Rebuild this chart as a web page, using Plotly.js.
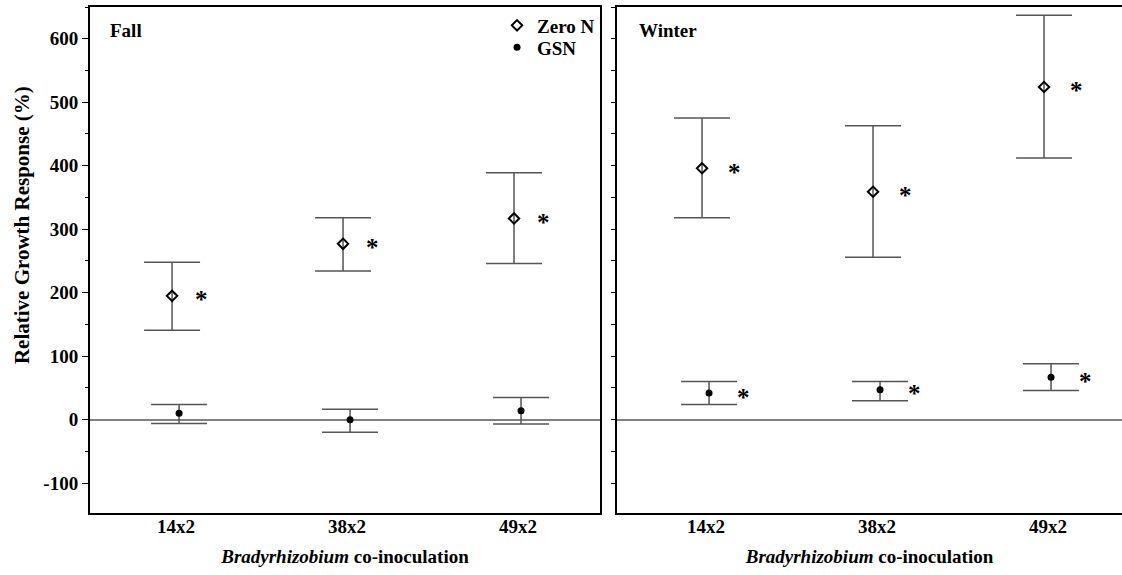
<!DOCTYPE html>
<html>
<head>
<meta charset="utf-8">
<script src="https://cdn.plot.ly/plotly-3.0.1.min.js"></script>
<style>html,body{margin:0;padding:0;background:#fff;}#chart{width:1122px;height:575px;}</style>
</head>
<body>
<div id="chart"></div>
<script>
// ---- data ----
const categories = ['14x2', '38x2', '49x2'];

const fallZeroN      = [195, 277, 317];
const fallZeroNUpper = [248, 318, 389];
const fallZeroNLower = [141, 234, 246];
const fallZeroNSig   = [true, true, true];

const fallGSN      = [10, 0, 14];
const fallGSNUpper = [24, 16.5, 35];
const fallGSNLower = [-6, -20, -7];
const fallGSNSig   = [false, false, false];

const winterZeroN      = [396, 359, 524];
const winterZeroNUpper = [475, 463, 637];
const winterZeroNLower = [318, 256, 412];
const winterZeroNSig   = [true, true, true];

const winterGSN      = [42, 47, 67];
const winterGSNUpper = [60, 60, 88];
const winterGSNLower = [24, 30, 46];
const winterGSNSig   = [true, true, true];

const yTickVals = [-100, 0, 100, 200, 300, 400, 500, 600];
const yTickText = yTickVals.map(v => String(v));

// ---- styling ----
const FONT = 'Liberation Serif';
const ERR_COLOR = '#555555';
const ZN_OFFSET = -0.023, GSN_OFFSET = 0.018;

function idx(offset) { return categories.map((c, i) => i + offset); }
function errs(mean, up, lo) {
  return {
    type: 'data', symmetric: false,
    array: up.map((u, i) => u - mean[i]),
    arrayminus: mean.map((m, i) => m - lo[i]),
    color: ERR_COLOR, thickness: 1.5, width: 28
  };
}
function zeroTrace(mean, up, lo, xa, ya, show) {
  return {
    x: idx(ZN_OFFSET), y: mean, xaxis: xa, yaxis: ya, type: 'scatter', mode: 'markers',
    name: 'Zero N', showlegend: show, legend: 'legend',
    marker: {symbol: 'diamond-open', size: 8, color: '#000', line: {width: 2, color: '#000'}},
    error_y: errs(mean, up, lo), hoverinfo: 'skip'
  };
}
function gsnTrace(mean, up, lo, xa, ya, show) {
  return {
    x: idx(GSN_OFFSET), y: mean, xaxis: xa, yaxis: ya, type: 'scatter', mode: 'markers',
    name: 'GSN', showlegend: show, legend: 'legend2',
    marker: {symbol: 'circle', size: 7, color: '#000'},
    error_y: errs(mean, up, lo), hoverinfo: 'skip'
  };
}

const data = [
  zeroTrace(fallZeroN, fallZeroNUpper, fallZeroNLower, 'x', 'y', true),
  gsnTrace(fallGSN, fallGSNUpper, fallGSNLower, 'x', 'y', true),
  zeroTrace(winterZeroN, winterZeroNUpper, winterZeroNLower, 'x2', 'y2', false),
  gsnTrace(winterGSN, winterGSNUpper, winterGSNLower, 'x2', 'y2', false)
];

// significance asterisks
const annotations = [];
function stars(mean, sig, offset, xref, yref, shift) {
  mean.forEach((m, i) => {
    if (!sig[i]) return;
    annotations.push({
      x: i + offset, y: m, xref: xref, yref: yref, text: '*', showarrow: false,
      xshift: shift, yshift: -4, xanchor: 'center', yanchor: 'middle',
      font: {family: FONT, size: 25, color: '#000', weight: 'bold'}
    });
  });
}
stars(fallZeroN, fallZeroNSig, ZN_OFFSET, 'x', 'y', 29);
stars(fallGSN, fallGSNSig, GSN_OFFSET, 'x', 'y', 33);
stars(winterZeroN, winterZeroNSig, ZN_OFFSET, 'x2', 'y2', 32);
stars(winterGSN, winterGSNSig, GSN_OFFSET, 'x2', 'y2', 34);

annotations.push({
  xref: 'x domain', yref: 'y domain', x: 0.035, y: 0.953, xanchor: 'left', yanchor: 'middle',
  text: 'Fall', showarrow: false, font: {family: FONT, size: 19, color: '#000', weight: 'bold'}
});
annotations.push({
  xref: 'x2 domain', yref: 'y2 domain', x: 0.04, y: 0.953, xanchor: 'left', yanchor: 'middle',
  text: 'Winter', showarrow: false, font: {family: FONT, size: 19, color: '#000', weight: 'bold'}
});
// y-axis title (placed as in the reference, slightly above the plot centre)
annotations.push({
  xref: 'paper', yref: 'paper', x: -0.0659, y: 0.569, xanchor: 'center', yanchor: 'middle',
  textangle: -90, text: 'Relative Growth Response (%)', showarrow: false,
  font: {family: FONT, size: 21, color: '#000', weight: 'bold'}
});

const tickFont = {family: FONT, size: 19, color: '#000', weight: 'bold'};
const xTitle = {
  text: '<i>Bradyrhizobium</i> co-inoculation',
  font: {family: FONT, size: 19, color: '#000', weight: 'bold'}, standoff: 14
};
const legendFont = {family: FONT, size: 19, color: '#000', weight: 'bold'};

const layout = {
  width: 1122, height: 575,
  margin: {l: 90, r: 0, t: 7, b: 62},
  paper_bgcolor: '#fff', plot_bgcolor: '#fff',
  font: {family: FONT, color: '#000'},
  showlegend: true,
  legend: {
    x: 0.3944, y: 1.001, xanchor: 'left', yanchor: 'top',
    bgcolor: 'rgba(0,0,0,0)', borderwidth: 0, font: legendFont, itemwidth: 30
  },
  legend2: {
    x: 0.3944, y: 0.9575, xanchor: 'left', yanchor: 'top',
    bgcolor: 'rgba(0,0,0,0)', borderwidth: 0, font: legendFont, itemwidth: 30
  },
  xaxis: {
    domain: [0, 0.4942], range: [-0.503, 2.48],
    tickvals: [0, 1, 2], ticktext: categories, ticks: '', tickfont: tickFont, ticklabelstandoff: -5,
    showline: true, linecolor: '#000', linewidth: 2, mirror: true,
    showgrid: false, zeroline: false, title: xTitle, automargin: false
  },
  yaxis: {
    domain: [0, 1], range: [-147, 650],
    tickvals: yTickVals, ticktext: yTickText, ticks: 'outside', ticklen: 6, tickwidth: 1, tickcolor: '#000',
    minor: {dtick: 50, tick0: 0, ticks: 'outside', ticklen: 3, tickcolor: '#000', showgrid: false},
    tickfont: tickFont,
    showline: true, linecolor: '#000', linewidth: 2, mirror: true,
    showgrid: false, zeroline: true, zerolinecolor: '#808080', zerolinewidth: 2,
    automargin: false
  },
  xaxis2: {
    domain: [0.5107, 1], range: [-0.52, 2.433], anchor: 'y2',
    tickvals: [0, 1, 2], ticktext: categories, ticks: '', tickfont: tickFont, ticklabelstandoff: -5,
    showline: true, linecolor: '#000', linewidth: 2, mirror: true,
    showgrid: false, zeroline: false, title: xTitle, automargin: false
  },
  yaxis2: {
    domain: [0, 1], range: [-147, 650], anchor: 'x2',
    dtick: 50, tick0: 0, ticks: 'outside', ticklen: 4, tickwidth: 1, tickcolor: '#000',
    showticklabels: false,
    showline: true, linecolor: '#000', linewidth: 2, mirror: false,
    showgrid: false, zeroline: true, zerolinecolor: '#808080', zerolinewidth: 2,
    automargin: false
  },
  annotations: annotations
};

Plotly.newPlot('chart', data, layout, {displayModeBar: false, staticPlot: true});
</script>
</body>
</html>
